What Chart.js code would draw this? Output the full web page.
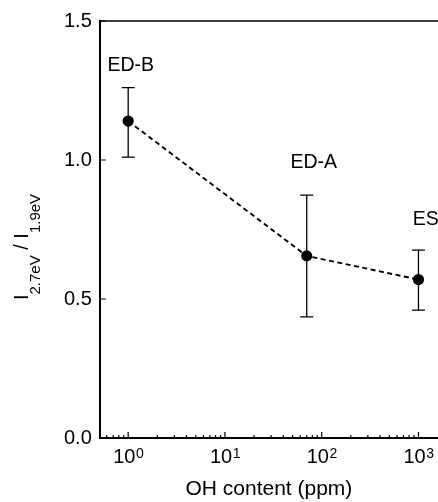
<!DOCTYPE html>
<html>
<head>
<meta charset="utf-8">
<script src="https://cdn.jsdelivr.net/npm/chart.js@4.4.1/dist/chart.umd.min.js"></script>
<style>
  html, body { margin: 0; padding: 0; background: #fff; overflow: hidden; }
</style>
</head>
<body>
<canvas id="myChart" width="438" height="502"></canvas>
<script>
// data
const samples = ['ED-B', 'ED-A', 'ES'];
const ohContent = [1, 70, 1000];          // ppm
const intensityRatio = [1.14, 0.655, 0.57];
const ratioLow = [1.01, 0.436, 0.46];
const ratioHigh = [1.26, 0.874, 0.676];
const xDecades = [1, 10, 100, 1000];
const yTicks = [0, 0.5, 1.0, 1.5];

const FONT = '"Liberation Sans", Arial, Helvetica, sans-serif';

// sample label offsets from the top of each error bar (px)
const labelOffsets = [[2.5, -17], [7, -27], [7.4, -25]];

const decorations = {
    id: 'decorations',
    beforeDatasetsDraw(chart) {
        const { ctx, scales: { x, y } } = chart;
        ctx.save();
        ctx.strokeStyle = '#000';
        ctx.lineWidth = 1.3;
        ohContent.forEach((v, i) => {
            const px = x.getPixelForValue(v);
            const top = y.getPixelForValue(ratioHigh[i]);
            const bot = y.getPixelForValue(ratioLow[i]);
            ctx.beginPath();
            ctx.moveTo(px, top); ctx.lineTo(px, bot);
            ctx.moveTo(px - 6.5, top); ctx.lineTo(px + 6.5, top);
            ctx.moveTo(px - 6.5, bot); ctx.lineTo(px + 6.5, bot);
            ctx.stroke();
        });
        ctx.restore();
    },
    afterDraw(chart) {
        const { ctx, chartArea: area, scales: { x, y } } = chart;
        ctx.save();
        ctx.strokeStyle = '#000';
        ctx.fillStyle = '#000';

        // top frame line
        ctx.lineWidth = 1.5;
        ctx.beginPath();
        ctx.moveTo(area.left, area.top);
        ctx.lineTo(area.right, area.top);
        ctx.stroke();

        // inward ticks on y
        ctx.lineWidth = 1.2;
        ctx.beginPath();
        yTicks.forEach(v => {
            const py = y.getPixelForValue(v);
            ctx.moveTo(area.left, py);
            ctx.lineTo(area.left + 6, py);
        });
        // inward ticks on x, major and minor
        xDecades.forEach(v => {
            const px = x.getPixelForValue(v);
            ctx.moveTo(px, area.bottom);
            ctx.lineTo(px, area.bottom - 6);
        });
        [0.1, 1, 10, 100, 1000].forEach(d => {
            for (let k = 2; k <= 9; k++) {
                const v = d * k;
                if (v < x.min || v > x.max) continue;
                const px = x.getPixelForValue(v);
                ctx.moveTo(px, area.bottom);
                ctx.lineTo(px, area.bottom - 3);
            }
        });
        ctx.stroke();

        // x tick labels as powers of ten
        ctx.textBaseline = 'alphabetic';
        ctx.textAlign = 'left';
        xDecades.forEach(v => {
            const exp = String(Math.round(Math.log10(v)));
            ctx.font = '20px ' + FONT;
            const wBase = ctx.measureText('10').width;
            ctx.font = '14px ' + FONT;
            const wExp = ctx.measureText(exp).width;
            const left = x.getPixelForValue(v) - (wBase + wExp) / 2;
            ctx.font = '20px ' + FONT;
            ctx.fillText('10', left, 463);
            ctx.font = '14px ' + FONT;
            ctx.fillText(exp, left + wBase + 0.5, 458);
        });

        // sample names
        ctx.font = '19.5px ' + FONT;
        ctx.textAlign = 'center';
        samples.forEach((name, i) => {
            const px = x.getPixelForValue(ohContent[i]) + labelOffsets[i][0];
            const py = y.getPixelForValue(ratioHigh[i]) + labelOffsets[i][1];
            ctx.fillText(name, px, py);
        });

        // y title: I_2.7eV / I_1.9eV
        const parts = [
            ['I', 20, 0], ['2.7eV', 15, 12], [' / ', 20, 0], ['I', 20, 0], ['1.9eV', 15, 12]
        ];
        let total = 0;
        parts.forEach(p => { ctx.font = p[1] + 'px ' + FONT; total += ctx.measureText(p[0]).width; });
        ctx.translate(28, 247);
        ctx.rotate(-Math.PI / 2);
        ctx.textAlign = 'left';
        let cx = -total / 2;
        parts.forEach(p => {
            ctx.font = p[1] + 'px ' + FONT;
            ctx.fillText(p[0], cx, p[2]);
            cx += ctx.measureText(p[0]).width;
        });
        ctx.restore();
    }
};

function renderChart() {
    const ctx = document.getElementById('myChart').getContext('2d');
    new Chart(ctx, {
        type: 'line',
        data: {
            datasets: [{
                data: ohContent.map((v, i) => ({ x: v, y: intensityRatio[i] })),
                borderColor: '#000',
                borderWidth: 1.9,
                borderDash: [5, 3.5],
                pointRadius: 5.6,
                pointHoverRadius: 5.6,
                pointBackgroundColor: '#000',
                pointBorderWidth: 0,
                tension: 0,
                clip: false
            }]
        },
        options: {
            responsive: false,
            animation: false,
            devicePixelRatio: 1,
            events: [],
            layout: { autoPadding: false, padding: { left: 56, top: 21, right: 0, bottom: 0 } },
            plugins: { legend: { display: false }, tooltip: { enabled: false } },
            scales: {
                x: {
                    type: 'logarithmic',
                    min: 0.509,
                    max: 1592,
                    grid: { display: false, drawTicks: false },
                    border: { display: true, color: '#000', width: 2 },
                    ticks: { display: false },
                    title: {
                        display: true,
                        text: 'OH content (ppm)',
                        color: '#000',
                        font: { family: FONT, size: 21 },
                        padding: { top: 38.8, bottom: 0 }
                    }
                },
                y: {
                    min: 0,
                    max: 1.5,
                    afterBuildTicks: scale => { scale.ticks = yTicks.map(v => ({ value: v })); },
                    grid: { display: false, drawTicks: false },
                    border: { display: true, color: '#000', width: 2 },
                    ticks: {
                        color: '#000',
                        padding: 8,
                        font: { family: FONT, size: 20 },
                        callback: v => v.toFixed(1)
                    }
                }
            }
        },
        plugins: [decorations]
    });
}

renderChart();
</script>
</body>
</html>
